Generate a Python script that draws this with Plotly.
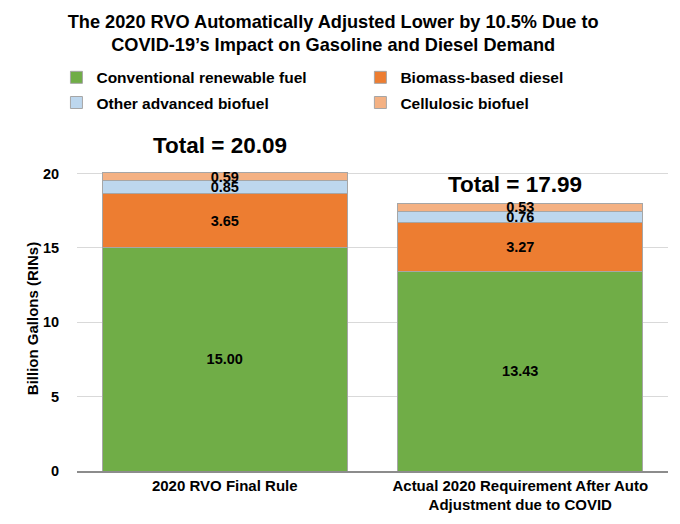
import plotly.graph_objects as go

categories = ["2020 RVO Final Rule", "Actual 2020 Requirement After Auto<br>Adjustment due to COVID"]
series_names = ["Conventional renewable fuel", "Biomass-based diesel", "Other advanced biofuel", "Cellulosic biofuel"]
conventional = [15.00, 13.43]
biomass_diesel = [3.65, 3.27]
other_advanced = [0.85, 0.76]
cellulosic = [0.59, 0.53]
totals = [20.09, 17.99]
colors = ["#70AD47", "#ED7D31", "#BDD7EE", "#F4B183"]
y_title = "Billion Gallons (RINs)"

Y_MAX = 20.1
label_offsets = [1.8, 1.3]
legend_ids = ["legend", "legend2", "legend", "legend2"]

fig = go.Figure()
for name, vals, col, lg in zip(series_names, [conventional, biomass_diesel, other_advanced, cellulosic], colors, legend_ids):
    fig.add_trace(go.Bar(
        x=categories, y=vals, name=name, legend=lg, legendgroup=name,
        marker=dict(color=col, line=dict(color="#A6A6A6", width=1)),
        text=[f"{v:.2f}" for v in vals],
        textposition="inside", insidetextanchor="middle", textangle=0,
        constraintext="none",
        textfont=dict(family="Arial", size=14.5, color="black", weight="bold"),
    ))

for cat, tot, off in zip(categories, totals, label_offsets):
    fig.add_annotation(x=cat, xref="x", y=(tot + off) / Y_MAX, yref="paper", xshift=-5,
                       text=f"<b>Total = {tot:.2f}</b>", showarrow=False,
                       font=dict(family="Arial", size=22.5, color="black"), yanchor="middle")

# y-axis title
fig.add_annotation(x=-0.075, xref="paper", y=0.51, yref="paper", text=f"<b>{y_title}</b>",
                   textangle=-90, showarrow=False, xanchor="center", yanchor="middle",
                   font=dict(family="Arial", size=15, color="black"))

legend_common = dict(orientation="v", xref="container", yref="container", y=0.884,
                     xanchor="left", yanchor="top", itemwidth=30, traceorder="grouped",
                     tracegroupgap=2, bgcolor="rgba(0,0,0,0)",
                     font=dict(family="Arial", size=15.5, color="black", weight="bold"))

fig.update_layout(
    barmode="stack", bargap=0.17,
    width=680, height=524,
    paper_bgcolor="white", plot_bgcolor="white",
    margin=dict(l=77, r=12, t=172, b=53, autoexpand=False),
    title=dict(text="<b>The 2020 RVO Automatically Adjusted Lower by 10.5% Due to<br>COVID-19’s Impact on Gasoline and Diesel Demand</b>",
               x=0.49, xanchor="center", y=0.947, yanchor="top",
               font=dict(family="Arial", size=18.2, color="black")),
    legend=dict(x=0.083, **legend_common),
    legend2=dict(x=0.53, **legend_common),
    font=dict(family="Arial", color="black"),
)
fig.update_yaxes(range=[0, Y_MAX], dtick=5, showgrid=True, gridcolor="#D9D9D9", gridwidth=1,
                 zeroline=False, showline=False,
                 tickfont=dict(family="Arial", size=14.5, color="black", weight="bold"),
                 ticks="outside", ticklen=14, tickcolor="rgba(0,0,0,0)")
fig.update_xaxes(showline=True, linecolor="#8C8C8C", linewidth=1.5,
                 tickfont=dict(family="Arial", size=15, color="black", weight="bold"))

fig.write_html("out.html", config={"displayModeBar": False},
               post_script="document.body.style.margin='0px'; Plotly.redraw(document.getElementById('{plot_id}'));")
